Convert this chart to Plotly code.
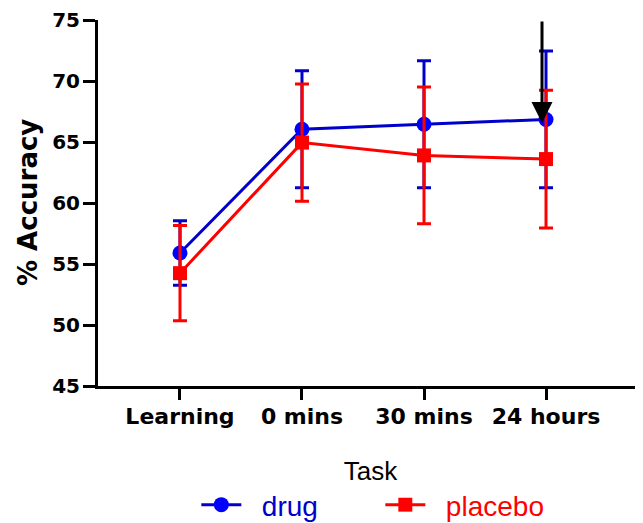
import plotly.graph_objects as go

categories = ["Learning", "0 mins", "30 mins", "24 hours"]
drug_mean = [55.9, 66.05, 66.45, 66.85]
drug_err = [2.65, 4.8, 5.2, 5.6]
placebo_mean = [54.25, 64.95, 63.9, 63.6]
placebo_err = [3.9, 4.8, 5.6, 5.65]
y_ticks = [45, 50, 55, 60, 65, 70, 75]
y_title = "% Accuracy"
x_title = "Task"

FONT = "Liberation Sans, Arial, sans-serif"
BFONT = "DejaVu Sans, Liberation Sans, Arial, sans-serif"
NB = "\u00a0\u00a0"

fig = go.Figure()
fig.add_trace(go.Scatter(
    x=categories, y=drug_mean, mode="lines+markers",
    name=NB + "<span style='color:#0000CC'>drug</span>",
    line=dict(color="#0000CC", width=3),
    marker=dict(symbol="circle", size=15, color="#0000FF"),
    error_y=dict(type="data", array=drug_err, visible=True, color="#0000CC", thickness=3, width=7),
))
fig.add_trace(go.Scatter(
    x=categories, y=placebo_mean, mode="lines+markers",
    name=NB + "<span style='color:#FF0000'>placebo</span>",
    line=dict(color="#FF0000", width=3),
    marker=dict(symbol="square", size=14, color="#FF0000"),
    error_y=dict(type="data", array=placebo_err, visible=True, color="#FF0000", thickness=3, width=7),
))

fig.add_annotation(
    x="24 hours", y=66.56, xref="x", yref="y", xshift=-4,
    ax=0, ay=-103, axref="pixel", ayref="pixel",
    showarrow=True, arrowhead=2, arrowwidth=3, arrowsize=1.4, arrowcolor="black",
    standoff=0, text="",
)

fig.add_annotation(
    text=y_title, textangle=-90, showarrow=False,
    xref="paper", yref="paper", x=0, y=0.5, xanchor="center", yanchor="middle",
    xshift=-70, font=dict(size=26, family=BFONT, weight="bold", color="black"),
)

fig.update_layout(
    width=635, height=515,
    margin=dict(l=90, r=0, t=12, b=137, autoexpand=False),
    paper_bgcolor="white", plot_bgcolor="white",
    font=dict(family=FONT, color="black"),
    showlegend=True,
    legend=dict(orientation="h", x=0.518, xanchor="center", y=-0.325, yanchor="middle",
                font=dict(size=28, family=FONT), entrywidth=129, itemwidth=40),
    xaxis=dict(
        type="category", range=[-0.672, 3.795], automargin=False,
        showline=True, linecolor="black", linewidth=3, mirror=False,
        ticks="outside", ticklen=11, tickwidth=3, tickcolor="black",
        tickfont=dict(size=22, family=BFONT, weight="bold"), ticklabelstandoff=-2,
        showgrid=False, zeroline=False,
        title=dict(text=x_title, font=dict(size=26, family=FONT), standoff=34),
    ),
    yaxis=dict(
        range=[45, 75], tickvals=y_ticks, automargin=False,
        showline=True, linecolor="black", linewidth=3,
        ticks="outside", ticklen=12, tickwidth=3, tickcolor="black",
        tickfont=dict(size=20, family=BFONT, weight="bold"), ticklabelstandoff=-1,
        ticklabeloverflow="allow",
        showgrid=False, zeroline=False,
    ),
)

fig.write_html("out.html")
